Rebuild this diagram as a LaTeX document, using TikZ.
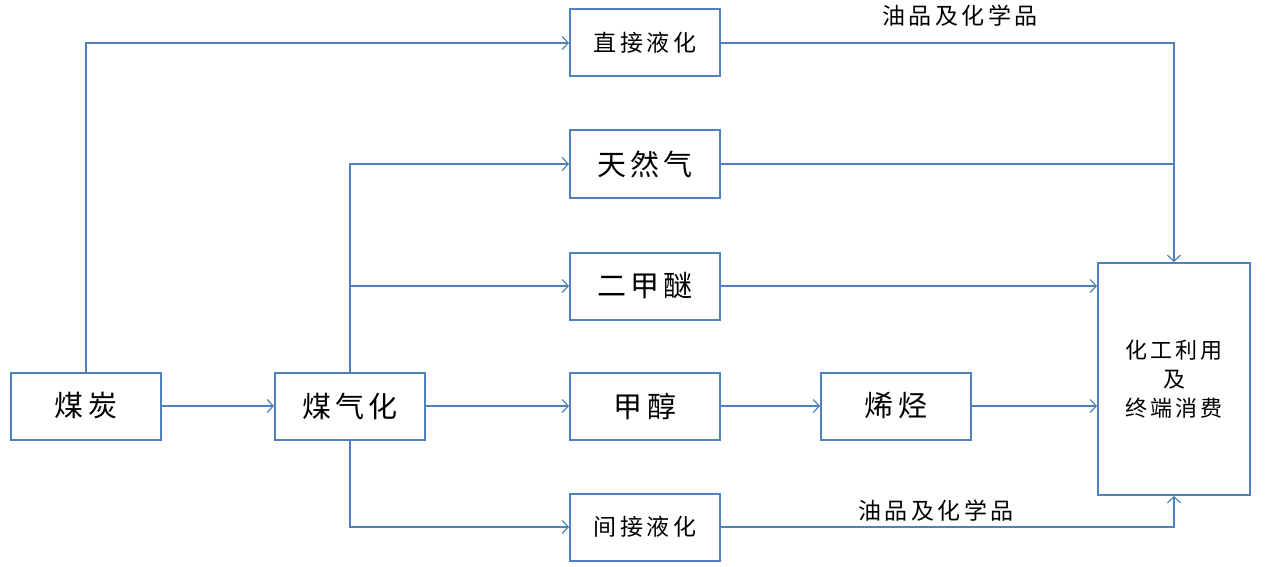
\documentclass[tikz,border=0pt]{standalone}
\usepackage{fontspec}
\usepackage{tikz}
\usetikzlibrary{arrows.meta}
\newfontfamily\cjk[LetterSpace=15]{Noto Sans CJK SC}
\definecolor{lineblue}{RGB}{79,129,189}

\begin{document}
\begin{tikzpicture}[x = 1pt, y = -1pt, line width = 1pt, >= {Straight Barb[length = 6pt, width = 13pt]},
                        box/.style = {rectangle, draw = lineblue, line width = 2pt, fill = white,
                                      minimum width = 150pt, minimum height = 67pt,
                                      font = \cjk\fontsize{29}{34}\selectfont},
                        smallbox/.style = {box, font = \cjk\fontsize{23}{27}\selectfont},
                        flow/.style = {draw = lineblue, line width = 1.2pt},
                        note/.style = {font = \cjk\fontsize{23}{27}\selectfont}]
      \useasboundingbox (0, 0) rectangle (1266, 567);
      \node [box] (coal) at (86, 406){煤炭};
      \node [box] (gasify) at (350, 406){煤气化};
      \node [smallbox] (direct) at (645, 43){直接液化};
      \node [box] (gas) at (645, 164){天然气};
      \node [box] (dme) at (645, 286){二甲醚};
      \node [box] (methanol) at (645, 406){甲醇};
      \node [box] (olefin) at (896, 406){烯烃};
      \node [smallbox] (indirect) at (645, 527){间接液化};
      \node [smallbox, minimum width = 152pt, minimum height = 232pt, align = center,
             font = \cjk\fontsize{22}{29}\selectfont] (use) at (1174, 379){化工利用\\及\\终端消费};
      \node [note] (oil1) at (960, 16){油品及化学品};
      \node [note] (oil2) at (936, 511){油品及化学品};
      \draw [flow, ->] (coal.north) |- (direct.west);
      \draw [flow, ->] (coal) -- (gasify);
      \draw [flow, ->] (gasify.north) |- (gas.west);
      \draw [flow, ->] (gasify.north |- dme) -- (dme.west);
      \draw [flow, ->] (gasify) -- (methanol);
      \draw [flow, ->] (gasify.south) |- (indirect.west);
      \draw [flow, ->] (methanol) -- (olefin);
      \draw [flow, ->] (direct.east) -| (use.north);
      \draw [flow] (gas.east) -- (use.north |- gas);
      \draw [flow, ->] (dme.east) -- (use.west |- dme);
      \draw [flow, ->] (olefin.east) -- (use.west |- olefin);
      \draw [flow, ->] (indirect.east) -| (use.south);
    \end{tikzpicture}
\end{document}
